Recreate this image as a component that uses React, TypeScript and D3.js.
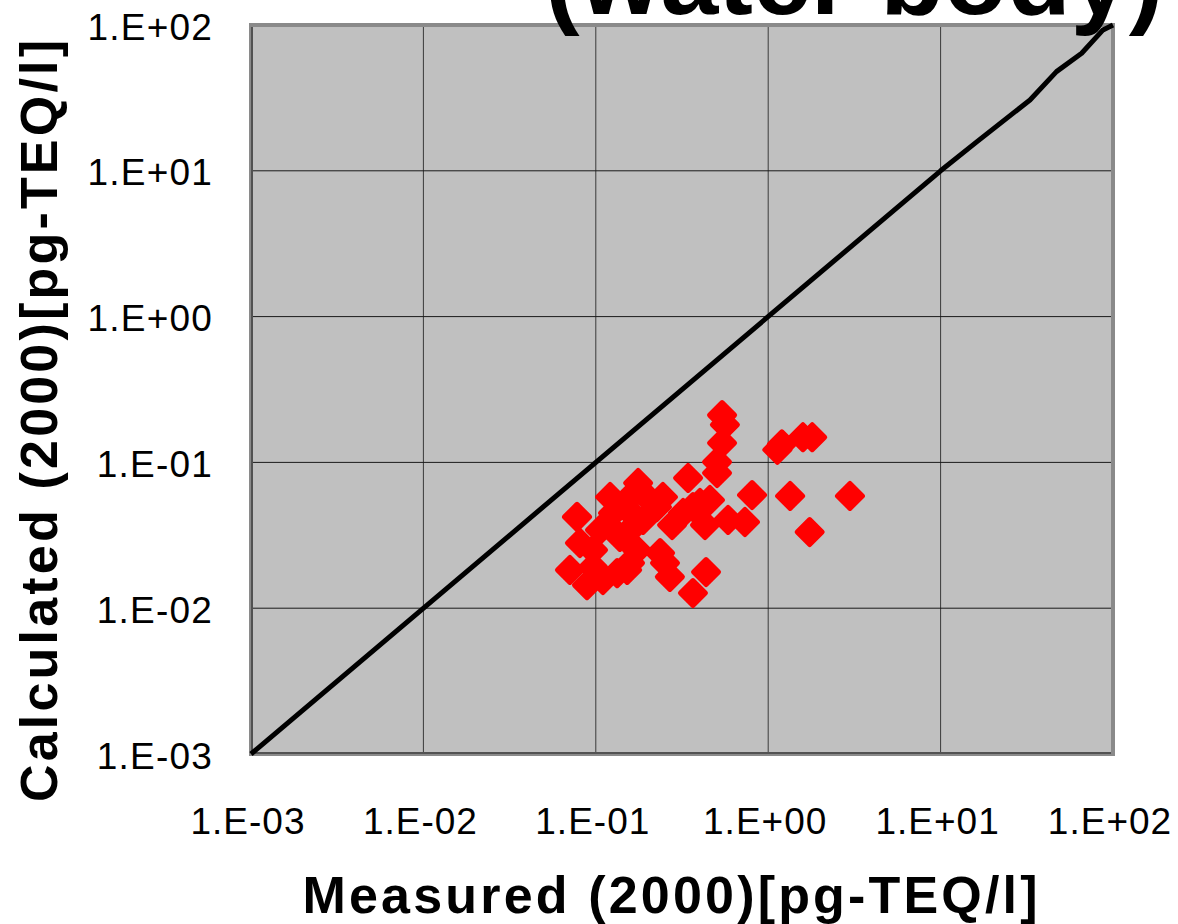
import React from "react";
import * as d3 from "d3";

const W = 1178;
const H = 924;

const decadeTicks = [1e-3, 1e-2, 1e-1, 1e0, 1e1, 1e2];
const xTickLabels = ["1.E-03", "1.E-02", "1.E-01", "1.E+00", "1.E+01", "1.E+02"];
const yTickLabels = ["1.E-03", "1.E-02", "1.E-01", "1.E+00", "1.E+01", "1.E+02"];

// Measured values (x) and calculated values (y) of the red diamonds
const measured = [
  0.0778, 0.0708, 0.0889, 0.11, 0.0964, 0.0809, 0.0964, 0.1057, 0.138, 0.158,
  0.173, 0.152, 0.126, 0.121, 0.176, 0.188, 0.245, 0.226, 0.252, 0.269,
  0.366, 0.343, 0.402, 0.459, 0.436, 0.54, 0.561, 0.54, 0.505, 0.505,
  0.585, 0.733, 0.806, 0.43, 1.13, 1.2, 1.59, 1.8, 1.34, 2.98,
  1.74, 0.148, 0.152, 0.206, 0.277, 0.321, 0.236, 0.158, 0.133, 0.366,
];
const calculated = [
  0.0423, 0.0183, 0.0144, 0.0156, 0.0192, 0.028, 0.0251, 0.0344, 0.0308, 0.0344,
  0.0251, 0.0183, 0.045, 0.0579, 0.0723, 0.0403, 0.0579, 0.0494, 0.0204, 0.0164,
  0.0127, 0.0782, 0.0527, 0.0552, 0.0177, 0.211, 0.181, 0.136, 0.1007, 0.0846,
  0.0403, 0.039, 0.0597, 0.0372, 0.122, 0.133, 0.149, 0.149, 0.0589, 0.0589,
  0.0333, 0.0494, 0.0552, 0.0552, 0.0372, 0.045, 0.0239, 0.0204, 0.0174, 0.0494,
];

// 1:1 reference line
const lineX = [0.001, 10, 16.2, 33, 47, 65.8, 87.5, 100];
const lineY = [0.001, 10, 15.8, 30.6, 47.9, 64, 92.5, 100];

const title = "(water body)";
const xTitle = "Measured (2000)[pg-TEQ/l]";
const yTitle = "Calculated (2000)[pg-TEQ/l]";

const plot = { left: 251, right: 1113, top: 25, bottom: 754 };

export default function App() {
  const x = d3.scaleLog().domain([1e-3, 1e2]).range([plot.left, plot.right]);
  const y = d3.scaleLog().domain([1e-3, 1e2]).range([plot.bottom, plot.top]);

  const line = d3
    .line<number>()
    .x((d) => x(lineX[d]))
    .y((d) => y(lineY[d]));

  const r = 12.5;
  const diamond = `M0,${-r}L${r},0L0,${r}L${-r},0Z`;
  const font = "'Liberation Sans', Arial, sans-serif";

  return (
    <svg
      width={W}
      height={H}
      style={{ position: "absolute", left: 0, top: 0, background: "#fff" }}
    >
      <rect x={0} y={0} width={W} height={H} fill="#fff" />
      {/* plot area */}
      <rect
        x={plot.left}
        y={plot.top}
        width={plot.right - plot.left}
        height={plot.bottom - plot.top}
        fill="#c0c0c0"
      />
      {/* grid */}
      {decadeTicks.slice(1, -1).map((t, i) => (
        <line
          key={"gx" + i}
          x1={x(t)}
          x2={x(t)}
          y1={plot.top}
          y2={plot.bottom}
          stroke="#3a3a3a"
          strokeWidth={1}
        />
      ))}
      {decadeTicks.slice(1, -1).map((t, i) => (
        <line
          key={"gy" + i}
          x1={plot.left}
          x2={plot.right}
          y1={y(t)}
          y2={y(t)}
          stroke="#1a1a1a"
          strokeWidth={1}
        />
      ))}
      {/* frame */}
      <rect
        x={plot.left}
        y={plot.top}
        width={plot.right - plot.left}
        height={plot.bottom - plot.top}
        fill="none"
        stroke="#8a8a8a"
        strokeWidth={4}
      />
      <path
        d={`M${plot.left + 1},${plot.top + 2}V${plot.bottom - 1}H${plot.right - 2}`}
        fill="none"
        stroke="#404040"
        strokeWidth={1.5}
      />
      {/* 1:1 line */}
      <path
        d={line(d3.range(lineX.length)) || ""}
        fill="none"
        stroke="#000"
        strokeWidth={5}
        strokeLinejoin="round"
      />
      {/* points */}
      {measured.map((m, i) => (
        <path
          key={"p" + i}
          d={diamond}
          transform={`translate(${x(m)},${y(calculated[i])})`}
          fill="#ff0000"
          stroke="#ff0000"
          strokeWidth={5}
          strokeLinejoin="round"
        />
      ))}
      {/* y tick labels */}
      {decadeTicks.map((t, i) => (
        <text
          key={"yl" + i}
          x={213}
          y={y(t) + 2}
          textAnchor="end"
          dominantBaseline="central"
          fontFamily={font}
          fontSize={37}
          letterSpacing={1.2}
          fill="#000"
        >
          {yTickLabels[i]}
        </text>
      ))}
      {/* x tick labels */}
      {decadeTicks.map((t, i) => (
        <text
          key={"xl" + i}
          x={x(t) - 3}
          y={834}
          textAnchor="middle"
          fontFamily={font}
          fontSize={37}
          letterSpacing={1}
          fill="#000"
        >
          {xTickLabels[i]}
        </text>
      ))}
      {/* axis titles */}
      <text
        x={670}
        y={913}
        textAnchor="middle"
        fontFamily={font}
        fontWeight="bold"
        fontSize={52}
        textLength={735}
        lengthAdjust="spacing"
      >
        {xTitle}
      </text>
      <text
        transform={`translate(57,421) rotate(-90)`}
        textAnchor="middle"
        fontFamily={font}
        fontWeight="bold"
        fontSize={52}
        textLength={762}
        lengthAdjust="spacing"
      >
        {yTitle}
      </text>
      {/* chart title (clipped at the top, as in the original) */}
      <text
        x={545}
        y={14}
        fontFamily={font}
        fontWeight="bold"
        fontSize={104}
      >
        {title}
      </text>
    </svg>
  );
}
